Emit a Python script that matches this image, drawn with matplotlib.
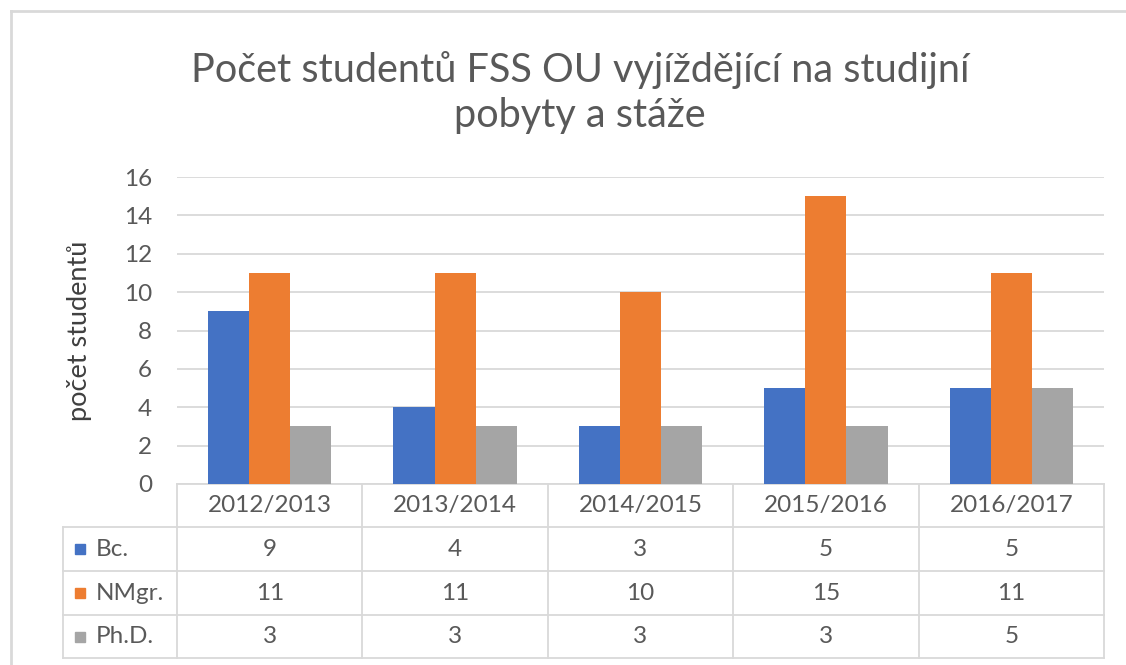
import matplotlib
matplotlib.use("Agg")
import matplotlib.pyplot as plt
import numpy as np
from matplotlib.lines import Line2D
from matplotlib.patches import Rectangle
from matplotlib.transforms import blended_transform_factory

plt.rcParams['font.family'] = ['Lato', 'DejaVu Sans']

years = ['2012/2013', '2013/2014', '2014/2015', '2015/2016', '2016/2017']
series_names = ['Bc.', 'NMgr.', 'Ph.D.']
bc = [9, 4, 3, 5, 5]
nmgr = [11, 11, 10, 15, 11]
phd = [3, 3, 3, 3, 5]
colors = ['#4472C4', '#ED7D31', '#A5A5A5']

W, H = 1126, 665
fig = plt.figure(figsize=(W / 100, H / 100), dpi=100)
fx = lambda px: px / W
fy = lambda py: 1 - py / H

ax = fig.add_axes([fx(177), fy(484), fx(1104) - fx(177), fy(177) - fy(484)])
grid_c = '#D9D9D9'
text_c = '#595959'
fs = 17.5

x = np.arange(len(years))
w = 0.222
for i, (vals, c) in enumerate(zip([bc, nmgr, phd], colors)):
    ax.bar(x + (i - 1) * w, vals, width=w, color=c, zorder=3)

ax.set_xlim(-0.5, len(years) - 0.5)
ax.set_ylim(0, 16)
ax.set_yticks(np.arange(0, 17, 2))
ax.yaxis.grid(True, color=grid_c, linewidth=1.3, zorder=0)
ax.set_xticks([])
for s in ax.spines.values():
    s.set_visible(False)
ax.tick_params(axis='y', length=0, labelsize=fs, labelcolor=text_c, pad=18)
ax.set_ylabel('počet studentů', fontsize=19.5, color='#404040', labelpad=23)

fig.text(fx(580), fy(70), 'Počet studentů FSS OU vyjíždějící na studijní',
         ha='center', va='center', fontsize=28.5, color=text_c)
fig.text(fx(580), fy(116), 'pobyty a stáže',
         ha='center', va='center', fontsize=28.5, color=text_c)

# data table under the chart
tr = blended_transform_factory(ax.transData, fig.transFigure)
left_lab = -0.5 - (177 - 63) / ((1104 - 177) / len(years))
rows_py = [484, 527, 571, 615, 658]
lw = 1.3
# horizontal lines
ax.add_line(Line2D([-0.5, len(years) - 0.5], [fy(rows_py[0])] * 2, transform=tr,
                   color=grid_c, lw=lw, clip_on=False))
for py in rows_py[1:]:
    ax.add_line(Line2D([left_lab, len(years) - 0.5], [fy(py)] * 2, transform=tr,
                       color=grid_c, lw=lw, clip_on=False))
# vertical lines
for b in np.arange(len(years) + 1) - 0.5:
    ax.add_line(Line2D([b, b], [fy(rows_py[0]), fy(rows_py[-1])], transform=tr,
                       color=grid_c, lw=lw, clip_on=False))
ax.add_line(Line2D([left_lab, left_lab], [fy(rows_py[1]), fy(rows_py[-1])], transform=tr,
                   color=grid_c, lw=lw, clip_on=False))

# header
hy = fy((rows_py[0] + rows_py[1]) / 2)
for xi, yr in zip(x, years):
    ax.text(xi, hy, yr, transform=tr, ha='center', va='center', fontsize=fs,
            color=text_c, clip_on=False)
# rows
for r, (name, vals, c) in enumerate(zip(series_names, [bc, nmgr, phd], colors)):
    cy = fy((rows_py[r + 1] + rows_py[r + 2]) / 2)
    for xi, v in zip(x, vals):
        ax.text(xi, cy, str(v), transform=tr, ha='center', va='center', fontsize=fs,
                color=text_c, clip_on=False)
    fig.add_artist(Rectangle((fx(75), cy - 5 / H), 10 / W, 10 / H,
                             transform=fig.transFigure, color=c))
    fig.text(fx(96), cy, name, ha='left', va='center', fontsize=fs, color=text_c)

# outer chart frame (clipped at right and bottom)
fig.add_artist(Line2D([fx(11), 1], [fy(11), fy(11)], transform=fig.transFigure,
                      color=grid_c, lw=2))
fig.add_artist(Line2D([fx(11), fx(11)], [fy(11), 0], transform=fig.transFigure,
                      color=grid_c, lw=2))

fig.savefig('out.png', dpi=100)
